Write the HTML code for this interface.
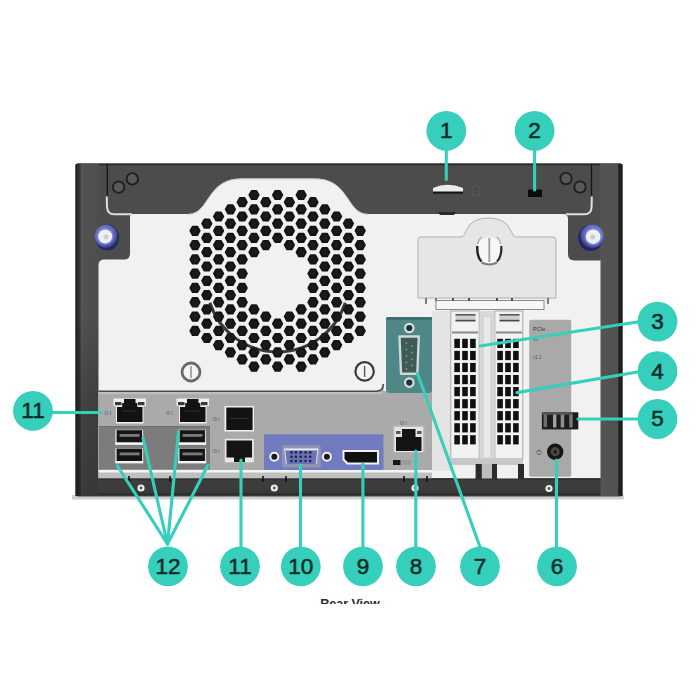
<!DOCTYPE html>
<html><head><meta charset="utf-8"><style>
html,body{margin:0;padding:0;background:#fff;overflow:hidden;width:700px;height:700px;}
svg{display:block;}
text{font-family:"Liberation Sans",sans-serif;}
</style></head><body>
<svg width="700" height="700" viewBox="0 0 700 700">
<defs>
<linearGradient id="lf" x1="0" x2="1" y1="0" y2="0">
<stop offset="0" stop-color="#161616"/><stop offset="0.07" stop-color="#2a2a2a"/>
<stop offset="0.2" stop-color="#393939"/><stop offset="0.25" stop-color="#565656"/>
<stop offset="0.4" stop-color="#525252"/><stop offset="1" stop-color="#4e4e4e"/>
</linearGradient>
<linearGradient id="lfv" x1="0" x2="0" y1="0" y2="1">
<stop offset="0" stop-color="#000" stop-opacity="0"/><stop offset="0.45" stop-color="#000" stop-opacity="0.02"/><stop offset="0.75" stop-color="#000" stop-opacity="0.22"/><stop offset="1" stop-color="#000" stop-opacity="0.3"/>
</linearGradient>
<linearGradient id="rf" x1="0" x2="1" y1="0" y2="0">
<stop offset="0" stop-color="#545454"/><stop offset="0.8" stop-color="#505050"/>
<stop offset="0.83" stop-color="#222"/><stop offset="1" stop-color="#1c1c1c"/>
</linearGradient>
<linearGradient id="tb" x1="0" x2="0" y1="0" y2="1">
<stop offset="0" stop-color="#3a3a3a"/><stop offset="0.05" stop-color="#525252"/><stop offset="1" stop-color="#4a4a4a"/>
</linearGradient>
<radialGradient id="scr" cx="0.42" cy="0.42" r="0.62">
<stop offset="0" stop-color="#9499e2"/><stop offset="0.55" stop-color="#6d73c4"/><stop offset="0.8" stop-color="#5157a8"/><stop offset="1" stop-color="#2a2d6c"/>
</radialGradient>
<radialGradient id="scr2" cx="0.58" cy="0.42" r="0.62">
<stop offset="0" stop-color="#9499e2"/><stop offset="0.55" stop-color="#6d73c4"/><stop offset="0.8" stop-color="#5157a8"/><stop offset="1" stop-color="#2a2d6c"/>
</radialGradient>
<linearGradient id="bot" x1="0" x2="0" y1="0" y2="1">
<stop offset="0" stop-color="#2c2c2c"/><stop offset="0.15" stop-color="#3e3e3e"/><stop offset="0.8" stop-color="#3a3a3a"/><stop offset="1" stop-color="#262626"/>
</linearGradient>
</defs>
<rect width="700" height="700" fill="#fff"/>
<rect x="72" y="495" width="552" height="4.5" fill="#cfcfcf"/>
<rect x="75.5" y="163.5" width="547" height="333" rx="2.5" fill="#4c4c4c"/>
<rect x="77" y="163.5" width="544" height="1.8" fill="#2c2c2c"/>
<rect x="75.5" y="164" width="23" height="332" fill="url(#lf)"/>
<rect x="77" y="164" width="21.5" height="332" fill="url(#lfv)"/>
<rect x="600" y="164" width="22.5" height="332" fill="url(#rf)"/>
<path d="M98.5 478 L98.5 265 Q98.5 259.5 104.5 259.5 L124 259.5 Q130 259.5 130 253.5 L130 217 Q130 214 133 214 L188 214
C200 214 204 204 210 196 C218 184.5 226 178.6 242 178.6 L314 178.6 C330 178.6 338 184.5 346 196 C352 204 356 214 368 214
L563 214 Q568 214 568 219 L568 254 Q568 260.5 574.5 260.5 L600.5 260.5 L600.5 478 Z" fill="#f1f1f1"/>
<path d="M188 214.3 C200 214 204 204 210 196 C218 184.5 226 178.9 242 178.9 L314 178.9 C330 178.9 338 184.5 346 196 C352 204 356 214 368 214.3" fill="none" stroke="#c4c4c4" stroke-width="1"/>

<path d="M190.4 230.8 L192.7 226.7 L197.3 226.7 L199.6 230.8 L197.3 234.9 L192.7 234.9ZM190.4 245.1 L192.7 241.0 L197.3 241.0 L199.6 245.1 L197.3 249.2 L192.7 249.2ZM190.4 259.4 L192.7 255.3 L197.3 255.3 L199.6 259.4 L197.3 263.5 L192.7 263.5ZM190.4 273.6 L192.7 269.5 L197.3 269.5 L199.6 273.6 L197.3 277.8 L192.7 277.8ZM190.4 287.9 L192.7 283.8 L197.3 283.8 L199.6 287.9 L197.3 292.1 L192.7 292.1ZM190.4 302.2 L192.7 298.1 L197.3 298.1 L199.6 302.2 L197.3 306.4 L192.7 306.4ZM190.4 316.6 L192.7 312.4 L197.3 312.4 L199.6 316.6 L197.3 320.7 L192.7 320.7ZM190.4 330.9 L192.7 326.8 L197.3 326.8 L199.6 330.9 L197.3 335.0 L192.7 335.0ZM202.2 223.6 L204.5 219.5 L209.1 219.5 L211.4 223.6 L209.1 227.7 L204.5 227.7ZM202.2 237.9 L204.5 233.8 L209.1 233.8 L211.4 237.9 L209.1 242.0 L204.5 242.0ZM202.2 252.2 L204.5 248.1 L209.1 248.1 L211.4 252.2 L209.1 256.3 L204.5 256.3ZM202.2 266.5 L204.5 262.4 L209.1 262.4 L211.4 266.5 L209.1 270.6 L204.5 270.6ZM202.2 280.8 L204.5 276.7 L209.1 276.7 L211.4 280.8 L209.1 284.9 L204.5 284.9ZM202.2 295.1 L204.5 291.0 L209.1 291.0 L211.4 295.1 L209.1 299.2 L204.5 299.2ZM202.2 309.4 L204.5 305.3 L209.1 305.3 L211.4 309.4 L209.1 313.5 L204.5 313.5ZM202.2 323.7 L204.5 319.6 L209.1 319.6 L211.4 323.7 L209.1 327.8 L204.5 327.8ZM202.2 338.0 L204.5 333.9 L209.1 333.9 L211.4 338.0 L209.1 342.1 L204.5 342.1ZM214.0 216.5 L216.3 212.4 L220.9 212.4 L223.2 216.5 L220.9 220.6 L216.3 220.6ZM214.0 230.8 L216.3 226.7 L220.9 226.7 L223.2 230.8 L220.9 234.9 L216.3 234.9ZM214.0 245.1 L216.3 241.0 L220.9 241.0 L223.2 245.1 L220.9 249.2 L216.3 249.2ZM214.0 259.4 L216.3 255.3 L220.9 255.3 L223.2 259.4 L220.9 263.5 L216.3 263.5ZM214.0 273.6 L216.3 269.5 L220.9 269.5 L223.2 273.6 L220.9 277.8 L216.3 277.8ZM214.0 287.9 L216.3 283.8 L220.9 283.8 L223.2 287.9 L220.9 292.1 L216.3 292.1ZM214.0 302.2 L216.3 298.1 L220.9 298.1 L223.2 302.2 L220.9 306.4 L216.3 306.4ZM214.0 316.6 L216.3 312.4 L220.9 312.4 L223.2 316.6 L220.9 320.7 L216.3 320.7ZM214.0 330.9 L216.3 326.8 L220.9 326.8 L223.2 330.9 L220.9 335.0 L216.3 335.0ZM214.0 345.1 L216.3 341.0 L220.9 341.0 L223.2 345.1 L220.9 349.2 L216.3 349.2ZM225.8 209.3 L228.1 205.2 L232.7 205.2 L235.0 209.3 L232.7 213.4 L228.1 213.4ZM225.8 223.6 L228.1 219.5 L232.7 219.5 L235.0 223.6 L232.7 227.7 L228.1 227.7ZM225.8 237.9 L228.1 233.8 L232.7 233.8 L235.0 237.9 L232.7 242.0 L228.1 242.0ZM225.8 252.2 L228.1 248.1 L232.7 248.1 L235.0 252.2 L232.7 256.3 L228.1 256.3ZM225.8 266.5 L228.1 262.4 L232.7 262.4 L235.0 266.5 L232.7 270.6 L228.1 270.6ZM225.8 280.8 L228.1 276.7 L232.7 276.7 L235.0 280.8 L232.7 284.9 L228.1 284.9ZM225.8 295.1 L228.1 291.0 L232.7 291.0 L235.0 295.1 L232.7 299.2 L228.1 299.2ZM225.8 309.4 L228.1 305.3 L232.7 305.3 L235.0 309.4 L232.7 313.5 L228.1 313.5ZM225.8 323.7 L228.1 319.6 L232.7 319.6 L235.0 323.7 L232.7 327.8 L228.1 327.8ZM225.8 338.0 L228.1 333.9 L232.7 333.9 L235.0 338.0 L232.7 342.1 L228.1 342.1ZM225.8 352.3 L228.1 348.2 L232.7 348.2 L235.0 352.3 L232.7 356.4 L228.1 356.4ZM237.6 202.2 L239.9 198.1 L244.5 198.1 L246.8 202.2 L244.5 206.2 L239.9 206.2ZM237.6 216.5 L239.9 212.4 L244.5 212.4 L246.8 216.5 L244.5 220.6 L239.9 220.6ZM237.6 230.8 L239.9 226.7 L244.5 226.7 L246.8 230.8 L244.5 234.9 L239.9 234.9ZM237.6 245.1 L239.9 241.0 L244.5 241.0 L246.8 245.1 L244.5 249.2 L239.9 249.2ZM237.6 259.4 L239.9 255.3 L244.5 255.3 L246.8 259.4 L244.5 263.5 L239.9 263.5ZM237.6 273.6 L239.9 269.5 L244.5 269.5 L246.8 273.6 L244.5 277.8 L239.9 277.8ZM237.6 287.9 L239.9 283.8 L244.5 283.8 L246.8 287.9 L244.5 292.1 L239.9 292.1ZM237.6 302.2 L239.9 298.1 L244.5 298.1 L246.8 302.2 L244.5 306.4 L239.9 306.4ZM237.6 316.6 L239.9 312.4 L244.5 312.4 L246.8 316.6 L244.5 320.7 L239.9 320.7ZM237.6 330.9 L239.9 326.8 L244.5 326.8 L246.8 330.9 L244.5 335.0 L239.9 335.0ZM237.6 345.1 L239.9 341.0 L244.5 341.0 L246.8 345.1 L244.5 349.2 L239.9 349.2ZM237.6 359.4 L239.9 355.3 L244.5 355.3 L246.8 359.4 L244.5 363.6 L239.9 363.6ZM249.4 195.0 L251.7 190.9 L256.3 190.9 L258.6 195.0 L256.3 199.1 L251.7 199.1ZM249.4 209.3 L251.7 205.2 L256.3 205.2 L258.6 209.3 L256.3 213.4 L251.7 213.4ZM249.4 223.6 L251.7 219.5 L256.3 219.5 L258.6 223.6 L256.3 227.7 L251.7 227.7ZM249.4 237.9 L251.7 233.8 L256.3 233.8 L258.6 237.9 L256.3 242.0 L251.7 242.0ZM249.4 252.2 L251.7 248.1 L256.3 248.1 L258.6 252.2 L256.3 256.3 L251.7 256.3ZM249.4 309.4 L251.7 305.3 L256.3 305.3 L258.6 309.4 L256.3 313.5 L251.7 313.5ZM249.4 323.7 L251.7 319.6 L256.3 319.6 L258.6 323.7 L256.3 327.8 L251.7 327.8ZM249.4 338.0 L251.7 333.9 L256.3 333.9 L258.6 338.0 L256.3 342.1 L251.7 342.1ZM249.4 352.3 L251.7 348.2 L256.3 348.2 L258.6 352.3 L256.3 356.4 L251.7 356.4ZM249.4 366.6 L251.7 362.5 L256.3 362.5 L258.6 366.6 L256.3 370.7 L251.7 370.7ZM261.2 202.2 L263.5 198.1 L268.1 198.1 L270.4 202.2 L268.1 206.2 L263.5 206.2ZM261.2 216.5 L263.5 212.4 L268.1 212.4 L270.4 216.5 L268.1 220.6 L263.5 220.6ZM261.2 230.8 L263.5 226.7 L268.1 226.7 L270.4 230.8 L268.1 234.9 L263.5 234.9ZM261.2 245.1 L263.5 241.0 L268.1 241.0 L270.4 245.1 L268.1 249.2 L263.5 249.2ZM261.2 316.6 L263.5 312.4 L268.1 312.4 L270.4 316.6 L268.1 320.7 L263.5 320.7ZM261.2 330.9 L263.5 326.8 L268.1 326.8 L270.4 330.9 L268.1 335.0 L263.5 335.0ZM261.2 345.1 L263.5 341.0 L268.1 341.0 L270.4 345.1 L268.1 349.2 L263.5 349.2ZM261.2 359.4 L263.5 355.3 L268.1 355.3 L270.4 359.4 L268.1 363.6 L263.5 363.6ZM273.0 195.0 L275.3 190.9 L279.9 190.9 L282.2 195.0 L279.9 199.1 L275.3 199.1ZM273.0 209.3 L275.3 205.2 L279.9 205.2 L282.2 209.3 L279.9 213.4 L275.3 213.4ZM273.0 223.6 L275.3 219.5 L279.9 219.5 L282.2 223.6 L279.9 227.7 L275.3 227.7ZM273.0 237.9 L275.3 233.8 L279.9 233.8 L282.2 237.9 L279.9 242.0 L275.3 242.0ZM273.0 323.7 L275.3 319.6 L279.9 319.6 L282.2 323.7 L279.9 327.8 L275.3 327.8ZM273.0 338.0 L275.3 333.9 L279.9 333.9 L282.2 338.0 L279.9 342.1 L275.3 342.1ZM273.0 352.3 L275.3 348.2 L279.9 348.2 L282.2 352.3 L279.9 356.4 L275.3 356.4ZM273.0 366.6 L275.3 362.5 L279.9 362.5 L282.2 366.6 L279.9 370.7 L275.3 370.7ZM284.8 202.2 L287.1 198.1 L291.7 198.1 L294.0 202.2 L291.7 206.2 L287.1 206.2ZM284.8 216.5 L287.1 212.4 L291.7 212.4 L294.0 216.5 L291.7 220.6 L287.1 220.6ZM284.8 230.8 L287.1 226.7 L291.7 226.7 L294.0 230.8 L291.7 234.9 L287.1 234.9ZM284.8 245.1 L287.1 241.0 L291.7 241.0 L294.0 245.1 L291.7 249.2 L287.1 249.2ZM284.8 316.6 L287.1 312.4 L291.7 312.4 L294.0 316.6 L291.7 320.7 L287.1 320.7ZM284.8 330.9 L287.1 326.8 L291.7 326.8 L294.0 330.9 L291.7 335.0 L287.1 335.0ZM284.8 345.1 L287.1 341.0 L291.7 341.0 L294.0 345.1 L291.7 349.2 L287.1 349.2ZM284.8 359.4 L287.1 355.3 L291.7 355.3 L294.0 359.4 L291.7 363.6 L287.1 363.6ZM296.6 195.0 L298.9 190.9 L303.5 190.9 L305.8 195.0 L303.5 199.1 L298.9 199.1ZM296.6 209.3 L298.9 205.2 L303.5 205.2 L305.8 209.3 L303.5 213.4 L298.9 213.4ZM296.6 223.6 L298.9 219.5 L303.5 219.5 L305.8 223.6 L303.5 227.7 L298.9 227.7ZM296.6 237.9 L298.9 233.8 L303.5 233.8 L305.8 237.9 L303.5 242.0 L298.9 242.0ZM296.6 252.2 L298.9 248.1 L303.5 248.1 L305.8 252.2 L303.5 256.3 L298.9 256.3ZM296.6 309.4 L298.9 305.3 L303.5 305.3 L305.8 309.4 L303.5 313.5 L298.9 313.5ZM296.6 323.7 L298.9 319.6 L303.5 319.6 L305.8 323.7 L303.5 327.8 L298.9 327.8ZM296.6 338.0 L298.9 333.9 L303.5 333.9 L305.8 338.0 L303.5 342.1 L298.9 342.1ZM296.6 352.3 L298.9 348.2 L303.5 348.2 L305.8 352.3 L303.5 356.4 L298.9 356.4ZM296.6 366.6 L298.9 362.5 L303.5 362.5 L305.8 366.6 L303.5 370.7 L298.9 370.7ZM308.4 202.2 L310.7 198.1 L315.3 198.1 L317.6 202.2 L315.3 206.2 L310.7 206.2ZM308.4 216.5 L310.7 212.4 L315.3 212.4 L317.6 216.5 L315.3 220.6 L310.7 220.6ZM308.4 230.8 L310.7 226.7 L315.3 226.7 L317.6 230.8 L315.3 234.9 L310.7 234.9ZM308.4 245.1 L310.7 241.0 L315.3 241.0 L317.6 245.1 L315.3 249.2 L310.7 249.2ZM308.4 259.4 L310.7 255.3 L315.3 255.3 L317.6 259.4 L315.3 263.5 L310.7 263.5ZM308.4 273.6 L310.7 269.5 L315.3 269.5 L317.6 273.6 L315.3 277.8 L310.7 277.8ZM308.4 287.9 L310.7 283.8 L315.3 283.8 L317.6 287.9 L315.3 292.1 L310.7 292.1ZM308.4 302.2 L310.7 298.1 L315.3 298.1 L317.6 302.2 L315.3 306.4 L310.7 306.4ZM308.4 316.6 L310.7 312.4 L315.3 312.4 L317.6 316.6 L315.3 320.7 L310.7 320.7ZM308.4 330.9 L310.7 326.8 L315.3 326.8 L317.6 330.9 L315.3 335.0 L310.7 335.0ZM308.4 345.1 L310.7 341.0 L315.3 341.0 L317.6 345.1 L315.3 349.2 L310.7 349.2ZM308.4 359.4 L310.7 355.3 L315.3 355.3 L317.6 359.4 L315.3 363.6 L310.7 363.6ZM320.2 209.3 L322.5 205.2 L327.1 205.2 L329.4 209.3 L327.1 213.4 L322.5 213.4ZM320.2 223.6 L322.5 219.5 L327.1 219.5 L329.4 223.6 L327.1 227.7 L322.5 227.7ZM320.2 237.9 L322.5 233.8 L327.1 233.8 L329.4 237.9 L327.1 242.0 L322.5 242.0ZM320.2 252.2 L322.5 248.1 L327.1 248.1 L329.4 252.2 L327.1 256.3 L322.5 256.3ZM320.2 266.5 L322.5 262.4 L327.1 262.4 L329.4 266.5 L327.1 270.6 L322.5 270.6ZM320.2 280.8 L322.5 276.7 L327.1 276.7 L329.4 280.8 L327.1 284.9 L322.5 284.9ZM320.2 295.1 L322.5 291.0 L327.1 291.0 L329.4 295.1 L327.1 299.2 L322.5 299.2ZM320.2 309.4 L322.5 305.3 L327.1 305.3 L329.4 309.4 L327.1 313.5 L322.5 313.5ZM320.2 323.7 L322.5 319.6 L327.1 319.6 L329.4 323.7 L327.1 327.8 L322.5 327.8ZM320.2 338.0 L322.5 333.9 L327.1 333.9 L329.4 338.0 L327.1 342.1 L322.5 342.1ZM320.2 352.3 L322.5 348.2 L327.1 348.2 L329.4 352.3 L327.1 356.4 L322.5 356.4ZM332.0 216.5 L334.3 212.4 L338.9 212.4 L341.2 216.5 L338.9 220.6 L334.3 220.6ZM332.0 230.8 L334.3 226.7 L338.9 226.7 L341.2 230.8 L338.9 234.9 L334.3 234.9ZM332.0 245.1 L334.3 241.0 L338.9 241.0 L341.2 245.1 L338.9 249.2 L334.3 249.2ZM332.0 259.4 L334.3 255.3 L338.9 255.3 L341.2 259.4 L338.9 263.5 L334.3 263.5ZM332.0 273.6 L334.3 269.5 L338.9 269.5 L341.2 273.6 L338.9 277.8 L334.3 277.8ZM332.0 287.9 L334.3 283.8 L338.9 283.8 L341.2 287.9 L338.9 292.1 L334.3 292.1ZM332.0 302.2 L334.3 298.1 L338.9 298.1 L341.2 302.2 L338.9 306.4 L334.3 306.4ZM332.0 316.6 L334.3 312.4 L338.9 312.4 L341.2 316.6 L338.9 320.7 L334.3 320.7ZM332.0 330.9 L334.3 326.8 L338.9 326.8 L341.2 330.9 L338.9 335.0 L334.3 335.0ZM332.0 345.1 L334.3 341.0 L338.9 341.0 L341.2 345.1 L338.9 349.2 L334.3 349.2ZM343.8 223.6 L346.1 219.5 L350.7 219.5 L353.0 223.6 L350.7 227.7 L346.1 227.7ZM343.8 237.9 L346.1 233.8 L350.7 233.8 L353.0 237.9 L350.7 242.0 L346.1 242.0ZM343.8 252.2 L346.1 248.1 L350.7 248.1 L353.0 252.2 L350.7 256.3 L346.1 256.3ZM343.8 266.5 L346.1 262.4 L350.7 262.4 L353.0 266.5 L350.7 270.6 L346.1 270.6ZM343.8 280.8 L346.1 276.7 L350.7 276.7 L353.0 280.8 L350.7 284.9 L346.1 284.9ZM343.8 295.1 L346.1 291.0 L350.7 291.0 L353.0 295.1 L350.7 299.2 L346.1 299.2ZM343.8 309.4 L346.1 305.3 L350.7 305.3 L353.0 309.4 L350.7 313.5 L346.1 313.5ZM343.8 323.7 L346.1 319.6 L350.7 319.6 L353.0 323.7 L350.7 327.8 L346.1 327.8ZM343.8 338.0 L346.1 333.9 L350.7 333.9 L353.0 338.0 L350.7 342.1 L346.1 342.1ZM355.6 230.8 L357.9 226.7 L362.5 226.7 L364.8 230.8 L362.5 234.9 L357.9 234.9ZM355.6 245.1 L357.9 241.0 L362.5 241.0 L364.8 245.1 L362.5 249.2 L357.9 249.2ZM355.6 259.4 L357.9 255.3 L362.5 255.3 L364.8 259.4 L362.5 263.5 L357.9 263.5ZM355.6 273.6 L357.9 269.5 L362.5 269.5 L364.8 273.6 L362.5 277.8 L357.9 277.8ZM355.6 287.9 L357.9 283.8 L362.5 283.8 L364.8 287.9 L362.5 292.1 L357.9 292.1ZM355.6 302.2 L357.9 298.1 L362.5 298.1 L364.8 302.2 L362.5 306.4 L357.9 306.4ZM355.6 316.6 L357.9 312.4 L362.5 312.4 L364.8 316.6 L362.5 320.7 L357.9 320.7ZM355.6 330.9 L357.9 326.8 L362.5 326.8 L364.8 330.9 L362.5 335.0 L357.9 335.0Z" fill="#1a1a1a" stroke="#141414" stroke-width="2.0" stroke-linejoin="round"/>
<path d="M209.9 302.8 A71.2 71.2 0 0 0 345.3 302.8" fill="none" stroke="#1c1c1c" stroke-width="3" opacity="0.85"/>

<circle cx="191" cy="372" r="9" fill="#f4f4f4" stroke="#6a6a6a" stroke-width="2.8"/>
<path d="M191 366 L191 378" stroke="#aaa" stroke-width="2"/>
<circle cx="364.6" cy="371.4" r="9.2" fill="#f4f4f4" stroke="#3a3a3a" stroke-width="2.2"/>
<path d="M364.6 366 L364.6 377" stroke="#555" stroke-width="1.4"/>
<path d="M107.2 164 L107.2 196" stroke="#151515" stroke-width="1.3"/>
<path d="M106.8 196.5 L107 207 Q107.5 214.3 114 214.3 L132 214.3" stroke="#dedede" stroke-width="2" fill="none"/>
<path d="M591.5 164 L591.5 196" stroke="#151515" stroke-width="1.3"/>
<path d="M591.8 196.5 L591.6 207 Q591.2 214.3 584.5 214.3 L566 214.3" stroke="#dedede" stroke-width="2" fill="none"/>
<circle cx="118.6" cy="187.2" r="5.7" fill="#585858" stroke="#1e1e1e" stroke-width="1.8"/>
<circle cx="132.3" cy="178.9" r="5.7" fill="#585858" stroke="#1e1e1e" stroke-width="1.8"/>
<circle cx="566" cy="178.5" r="5.7" fill="#585858" stroke="#1e1e1e" stroke-width="1.8"/>
<circle cx="580" cy="187" r="5.7" fill="#585858" stroke="#1e1e1e" stroke-width="1.8"/>
<ellipse cx="107.2" cy="237.6" rx="11.9" ry="13" fill="#22265e"/>
<circle cx="106.3" cy="236.3" r="11.5" fill="url(#scr)"/>
<circle cx="105.2" cy="236.4" r="8.3" fill="#7e85d2"/>
<circle cx="105.2" cy="236.4" r="7" fill="#eef0f4"/>
<circle cx="106" cy="237" r="2.5" fill="#c8d2c8"/>
<ellipse cx="590.6" cy="237.8" rx="12.4" ry="13.2" fill="#22265e"/>
<circle cx="592" cy="236.3" r="11.8" fill="url(#scr2)"/>
<circle cx="593.2" cy="236.7" r="8.6" fill="#7e85d2"/>
<circle cx="593.2" cy="236.7" r="7.3" fill="#eef0f4"/>
<circle cx="592.6" cy="237" r="2.5" fill="#c8d2c8"/>
<path d="M433 188 Q447 181.5 463 188 L463 192 L433 192 Z" fill="#ececec"/>
<rect x="433" y="191.5" width="30" height="2.2" fill="#161616"/>
<path d="M438 212 L456 212 L454 215 L440 215 Z" fill="#2a2a2a"/>
<rect x="528" y="189.5" width="14" height="7.5" fill="#0c0c0c"/>
<path d="M472 195 L472 188 Q476 183 480 188 L480 195 Z" fill="none" stroke="#5c5c5c" stroke-width="1"/>
<path d="M418 240 Q418 237 421 237 L461 237 Q464 237 466 231 Q471 218 488.5 218 Q506 218 511 231 Q513 237 516 237 L553 237 Q556 237 556 240 L556 298 L418 298 Z" fill="#e6e6e6" stroke="#b0b0b0" stroke-width="1"/>
<ellipse cx="489.3" cy="251" rx="13.5" ry="14" fill="#d8d8d8"/>
<ellipse cx="489.3" cy="250.5" rx="12.8" ry="13.4" fill="#f6f6f6"/>
<path d="M477.3 246 Q476.8 257 481.5 261.5" fill="none" stroke="#222" stroke-width="2.4"/>
<path d="M501.3 246 Q501.8 257 497 261.5" fill="none" stroke="#2a2a2a" stroke-width="2.2"/>
<path d="M481.5 262.5 Q489.3 266.5 497 262.5" fill="none" stroke="#7a7a7a" stroke-width="2"/>
<path d="M478 244 Q478.5 239 482 237" fill="none" stroke="#aaa" stroke-width="1.2"/>
<path d="M500.5 244 Q500 239 496.5 237" fill="none" stroke="#aaa" stroke-width="1.2"/>
<path d="M489.3 238 L489.3 262" stroke="#9a9a9a" stroke-width="1.8"/>
<path d="M426 298 L426 304 M436 298 L436 302 M548 298 L548 304" stroke="#555" stroke-width="1.5"/>
<rect x="436" y="300.5" width="108" height="9" fill="#f7f7f7" stroke="#8a8a8a" stroke-width="1"/>
<rect x="98.5" y="391" width="333.5" height="80.5" fill="#aaaaaa"/>
<path d="M376 391.5 Q383.5 391.5 383.5 384 L383.5 392 L376 392 Z" fill="#aaaaaa"/>
<rect x="98.5" y="392" width="284" height="2.2" fill="#bebebe"/>
<path d="M98.5 391.3 L376 391.3 Q383.3 391.3 383.3 384" fill="none" stroke="#4a4a4a" stroke-width="1.6"/>
<rect x="99" y="426" width="111" height="43.5" fill="#7c7c7c"/>
<rect x="99" y="426" width="111" height="1" fill="#6c6c6c"/>
<rect x="386" y="317" width="46.5" height="76" rx="4" fill="#4f8686"/>
<rect x="386" y="317" width="46.5" height="3" rx="1.5" fill="#3e6e6e"/>
<path d="M399.5 336.5 L418.8 336.5 L417.3 373.8 L401 373.8 Z" fill="#3e5a55" stroke="#d0d8d8" stroke-width="2.4" stroke-linejoin="round"/>
<g fill="#7f9d95"><circle cx="406.4" cy="343" r="0.9"/><circle cx="406.4" cy="349.5" r="0.9"/><circle cx="406.4" cy="356" r="0.9"/><circle cx="406.4" cy="362.5" r="0.9"/><circle cx="406.4" cy="369" r="0.9"/>
<circle cx="412.1" cy="346" r="0.9"/><circle cx="412.1" cy="352.5" r="0.9"/><circle cx="412.1" cy="359" r="0.9"/><circle cx="412.1" cy="365.5" r="0.9"/></g>
<circle cx="409.3" cy="328" r="4.2" fill="#1e3030" stroke="#d6e0e0" stroke-width="2.2"/>
<circle cx="409.3" cy="382.6" r="4.2" fill="#1e3030" stroke="#d6e0e0" stroke-width="2.2"/>
<rect x="264" y="434.3" width="119.5" height="36" fill="#727bbf"/>
<rect x="282" y="445.3" width="38.8" height="22.3" rx="2" fill="#9094b4"/>
<path d="M284.6 448.4 L318 448.4 L316.2 464 L286.4 464 Z" fill="#6a72b2"/>
<rect x="284.6" y="448.4" width="33.4" height="2" fill="#e8eaf4"/>
<path d="M284.6 448.4 L286.4 464 M318 448.4 L316.2 464" stroke="#d0d3e6" stroke-width="1.2"/>
<circle cx="291.5" cy="452.4" r="1.3" fill="#1e2254"/><circle cx="295.9" cy="452.4" r="1.3" fill="#1e2254"/><circle cx="300.7" cy="452.4" r="1.3" fill="#1e2254"/><circle cx="305.6" cy="452.4" r="1.3" fill="#1e2254"/><circle cx="310.2" cy="452.4" r="1.3" fill="#1e2254"/><circle cx="291.5" cy="456.8" r="1.3" fill="#1e2254"/><circle cx="295.9" cy="456.8" r="1.3" fill="#1e2254"/><circle cx="300.7" cy="456.8" r="1.3" fill="#1e2254"/><circle cx="305.6" cy="456.8" r="1.3" fill="#1e2254"/><circle cx="310.2" cy="456.8" r="1.3" fill="#1e2254"/><circle cx="291.5" cy="461" r="1.3" fill="#1e2254"/><circle cx="295.9" cy="461" r="1.3" fill="#1e2254"/><circle cx="300.7" cy="461" r="1.3" fill="#1e2254"/><circle cx="305.6" cy="461" r="1.3" fill="#1e2254"/><circle cx="310.2" cy="461" r="1.3" fill="#1e2254"/>
<circle cx="274.3" cy="456.8" r="4" fill="#1a1a1a" stroke="#f0f0f0" stroke-width="2"/>
<circle cx="326.9" cy="456.8" r="4" fill="#1a1a1a" stroke="#f0f0f0" stroke-width="2"/>
<path d="M342.5 450 L379 450 L379 464.5 L347 464.5 L342.5 460 Z" fill="#f2f2f2"/>
<path d="M344.5 452 L377 452 L377 462.5 L348 462.5 L344.5 459 Z" fill="#111"/>

<path d="M113.5 398.5 L146.0 398.5 L146.0 406 L143.5 406 L143.5 423.5 L116 423.5 L116 406 L113.5 406 Z" fill="#efefef"/><path d="M117 407 L122.2 407 L122.2 403 L124.0 403 L124.0 399 L135.5 399 L135.5 403 L137.3 403 L137.3 407 L142.5 407 L142.5 422 L117 422 Z" fill="#121212"/><rect x="115" y="402" width="6.5" height="3.2" fill="#3a3a3a"/><rect x="138.0" y="402" width="6.5" height="3.2" fill="#3a3a3a"/><rect x="122" y="410.5" width="15.5" height="1" fill="#2e2e2e"/>
<path d="M176.5 398.5 L209.0 398.5 L209.0 406 L206.5 406 L206.5 423.5 L179 423.5 L179 406 L176.5 406 Z" fill="#efefef"/><path d="M180 407 L185.2 407 L185.2 403 L187.0 403 L187.0 399 L198.5 399 L198.5 403 L200.3 403 L200.3 407 L205.5 407 L205.5 422 L180 422 Z" fill="#121212"/><rect x="178" y="402" width="6.5" height="3.2" fill="#3a3a3a"/><rect x="201.0" y="402" width="6.5" height="3.2" fill="#3a3a3a"/><rect x="185" y="410.5" width="15.5" height="1" fill="#2e2e2e"/>
<rect x="224.5" y="406" width="29.5" height="25.5" fill="#efefef"/>
<rect x="226.3" y="407.5" width="26.3" height="22.5" fill="#131313"/>
<rect x="230" y="418" width="19" height="1" fill="#333"/>
<rect x="224.8" y="438.8" width="29" height="23.5" fill="#e8e8e8"/>
<path d="M226.5 440.5 L252 440.5 L252 457.5 L245 457.5 L245 462 L234 462 L234 457.5 L226.5 457.5 Z" fill="#141414"/>
<rect x="393" y="425.5" width="31.5" height="27" rx="1.5" fill="#bdbdbd"/>

<path d="M394.5 427 L423 427 L423 452 L394.5 452 Z" fill="#e6e6e6"/>
<path d="M396 437 L402 437 L402 429 L415.5 429 L415.5 437 L421.5 437 L421.5 451 L396 451 Z" fill="#141414"/>
<rect x="396" y="431" width="4.5" height="3" fill="#555"/><rect x="417" y="431" width="4.5" height="3" fill="#555"/>
<rect x="393" y="460" width="7.5" height="5" fill="#161616"/>
<rect x="402" y="460" width="9" height="5" fill="#9a9a9a"/>

<rect x="115.2" y="429.7" width="28" height="15" fill="#cfcfcf"/>
<rect x="116.7" y="430.2" width="25.3" height="12.3" fill="#141414"/>
<rect x="119.6" y="434.0" width="20" height="2.8" fill="#7a7a7a"/>
<rect x="115.2" y="442.5" width="28" height="2.3" fill="#f4f4f4"/>
<rect x="115.2" y="448.2" width="28" height="15" fill="#cfcfcf"/>
<rect x="116.7" y="448.7" width="25.3" height="12.3" fill="#141414"/>
<rect x="119.6" y="452.5" width="20" height="2.8" fill="#7a7a7a"/>
<rect x="115.2" y="461.0" width="28" height="2.3" fill="#f4f4f4"/>
<rect x="178.1" y="429.7" width="28" height="15" fill="#cfcfcf"/>
<rect x="179.6" y="430.2" width="25.3" height="12.3" fill="#141414"/>
<rect x="182.5" y="434.0" width="20" height="2.8" fill="#7a7a7a"/>
<rect x="178.1" y="442.5" width="28" height="2.3" fill="#f4f4f4"/>
<rect x="178.1" y="448.2" width="28" height="15" fill="#cfcfcf"/>
<rect x="179.6" y="448.7" width="25.3" height="12.3" fill="#141414"/>
<rect x="182.5" y="452.5" width="20" height="2.8" fill="#7a7a7a"/>
<rect x="178.1" y="461.0" width="28" height="2.3" fill="#f4f4f4"/>
<circle cx="106.5" cy="413" r="1.7" fill="none" stroke="#7e7e7e" stroke-width="0.9"/><path d="M110.5 411 L110.5 415" stroke="#7e7e7e" stroke-width="1"/><path d="M105.8 412 L107.2 414" stroke="#7e7e7e" stroke-width="0.6"/>
<circle cx="168" cy="413" r="1.7" fill="none" stroke="#7e7e7e" stroke-width="0.9"/><path d="M172 411 L172 415" stroke="#7e7e7e" stroke-width="1"/><path d="M167.3 412 L168.7 414" stroke="#7e7e7e" stroke-width="0.6"/>
<circle cx="215" cy="419" r="1.7" fill="none" stroke="#7e7e7e" stroke-width="0.9"/><path d="M219 417 L219 421" stroke="#7e7e7e" stroke-width="1"/><path d="M214.3 418 L215.7 420" stroke="#7e7e7e" stroke-width="0.6"/>
<circle cx="215" cy="451" r="1.7" fill="none" stroke="#7e7e7e" stroke-width="0.9"/><path d="M219 449 L219 453" stroke="#7e7e7e" stroke-width="1"/><path d="M214.3 450 L215.7 452" stroke="#7e7e7e" stroke-width="0.6"/>
<circle cx="402" cy="423" r="1.7" fill="none" stroke="#7e7e7e" stroke-width="0.9"/><path d="M406 421 L406 425" stroke="#7e7e7e" stroke-width="1"/><path d="M401.3 422 L402.7 424" stroke="#7e7e7e" stroke-width="0.6"/>
<rect x="432" y="311" width="19" height="160" fill="#e4e4e4"/>
<rect x="450.8" y="311" width="28.4" height="148" fill="#f2f2f2" stroke="#a8a8a8" stroke-width="1"/>
<rect x="494.8" y="311" width="28" height="148" fill="#f2f2f2" stroke="#a8a8a8" stroke-width="1"/>
<rect x="479.8" y="311" width="14.5" height="150" fill="#d9d9d9"/>
<rect x="483" y="316" width="8" height="142" fill="#e9e9e9" stroke="#c4c4c4" stroke-width="0.8"/>
<rect x="455.5" y="314" width="20" height="7.5" fill="#cfcfcf"/>
<rect x="455.5" y="314" width="20" height="1.6" fill="#5a5a5a"/>
<rect x="455.5" y="319.8" width="20" height="1.6" fill="#4a4a4a"/>
<rect x="499.5" y="314" width="20" height="7.5" fill="#cfcfcf"/>
<rect x="499.5" y="314" width="20" height="1.6" fill="#5a5a5a"/>
<rect x="499.5" y="319.8" width="20" height="1.6" fill="#4a4a4a"/>
<path d="M452.9 298 L452.9 301 M469 298 L469 301 M497 298 L497 301 M512 298 L512 301" stroke="#444" stroke-width="1.8"/>
<rect x="452" y="331.5" width="26" height="2" fill="#8a8a8a"/>
<rect x="496" y="331.5" width="26" height="2" fill="#8a8a8a"/>
<rect x="451" y="458.5" width="72" height="6.5" fill="#c8c8c8"/>
<rect x="453.6" y="465" width="22" height="14" fill="#f0f0f0"/>
<rect x="497.6" y="465" width="20.4" height="14" fill="#f0f0f0"/>
<rect x="475.6" y="464" width="6.3" height="15" fill="#2a2a2a"/>
<rect x="492" y="464" width="5" height="15" fill="#2a2a2a"/>
<rect x="518" y="464" width="6" height="15" fill="#2a2a2a"/>
<rect x="481.9" y="464" width="10.1" height="15" fill="#bdbdbd"/>

<rect x="454.3" y="338.8" width="5.6" height="9.2" fill="#101010"/>
<rect x="454.3" y="350.9" width="5.6" height="9.2" fill="#101010"/>
<rect x="454.3" y="362.9" width="5.6" height="9.2" fill="#101010"/>
<rect x="454.3" y="375.0" width="5.6" height="9.2" fill="#101010"/>
<rect x="454.3" y="387.0" width="5.6" height="9.2" fill="#101010"/>
<rect x="454.3" y="399.1" width="5.6" height="9.2" fill="#101010"/>
<rect x="454.3" y="411.1" width="5.6" height="9.2" fill="#101010"/>
<rect x="454.3" y="423.2" width="5.6" height="9.2" fill="#101010"/>
<rect x="454.3" y="435.2" width="5.6" height="9.2" fill="#101010"/>
<rect x="462.2" y="338.8" width="5.6" height="9.2" fill="#101010"/>
<rect x="462.2" y="350.9" width="5.6" height="9.2" fill="#101010"/>
<rect x="462.2" y="362.9" width="5.6" height="9.2" fill="#101010"/>
<rect x="462.2" y="375.0" width="5.6" height="9.2" fill="#101010"/>
<rect x="462.2" y="387.0" width="5.6" height="9.2" fill="#101010"/>
<rect x="462.2" y="399.1" width="5.6" height="9.2" fill="#101010"/>
<rect x="462.2" y="411.1" width="5.6" height="9.2" fill="#101010"/>
<rect x="462.2" y="423.2" width="5.6" height="9.2" fill="#101010"/>
<rect x="462.2" y="435.2" width="5.6" height="9.2" fill="#101010"/>
<rect x="470.1" y="338.8" width="5.6" height="9.2" fill="#101010"/>
<rect x="470.1" y="350.9" width="5.6" height="9.2" fill="#101010"/>
<rect x="470.1" y="362.9" width="5.6" height="9.2" fill="#101010"/>
<rect x="470.1" y="375.0" width="5.6" height="9.2" fill="#101010"/>
<rect x="470.1" y="387.0" width="5.6" height="9.2" fill="#101010"/>
<rect x="470.1" y="399.1" width="5.6" height="9.2" fill="#101010"/>
<rect x="470.1" y="411.1" width="5.6" height="9.2" fill="#101010"/>
<rect x="470.1" y="423.2" width="5.6" height="9.2" fill="#101010"/>
<rect x="470.1" y="435.2" width="5.6" height="9.2" fill="#101010"/>
<rect x="497.3" y="338.8" width="5.6" height="9.2" fill="#101010"/>
<rect x="497.3" y="350.9" width="5.6" height="9.2" fill="#101010"/>
<rect x="497.3" y="362.9" width="5.6" height="9.2" fill="#101010"/>
<rect x="497.3" y="375.0" width="5.6" height="9.2" fill="#101010"/>
<rect x="497.3" y="387.0" width="5.6" height="9.2" fill="#101010"/>
<rect x="497.3" y="399.1" width="5.6" height="9.2" fill="#101010"/>
<rect x="497.3" y="411.1" width="5.6" height="9.2" fill="#101010"/>
<rect x="497.3" y="423.2" width="5.6" height="9.2" fill="#101010"/>
<rect x="497.3" y="435.2" width="5.6" height="9.2" fill="#101010"/>
<rect x="505.2" y="338.8" width="5.6" height="9.2" fill="#101010"/>
<rect x="505.2" y="350.9" width="5.6" height="9.2" fill="#101010"/>
<rect x="505.2" y="362.9" width="5.6" height="9.2" fill="#101010"/>
<rect x="505.2" y="375.0" width="5.6" height="9.2" fill="#101010"/>
<rect x="505.2" y="387.0" width="5.6" height="9.2" fill="#101010"/>
<rect x="505.2" y="399.1" width="5.6" height="9.2" fill="#101010"/>
<rect x="505.2" y="411.1" width="5.6" height="9.2" fill="#101010"/>
<rect x="505.2" y="423.2" width="5.6" height="9.2" fill="#101010"/>
<rect x="505.2" y="435.2" width="5.6" height="9.2" fill="#101010"/>
<rect x="513.1" y="338.8" width="5.6" height="9.2" fill="#101010"/>
<rect x="513.1" y="350.9" width="5.6" height="9.2" fill="#101010"/>
<rect x="513.1" y="362.9" width="5.6" height="9.2" fill="#101010"/>
<rect x="513.1" y="375.0" width="5.6" height="9.2" fill="#101010"/>
<rect x="513.1" y="387.0" width="5.6" height="9.2" fill="#101010"/>
<rect x="513.1" y="399.1" width="5.6" height="9.2" fill="#101010"/>
<rect x="513.1" y="411.1" width="5.6" height="9.2" fill="#101010"/>
<rect x="513.1" y="423.2" width="5.6" height="9.2" fill="#101010"/>
<rect x="513.1" y="435.2" width="5.6" height="9.2" fill="#101010"/>
<rect x="529.2" y="319.7" width="42" height="157" rx="2" fill="#a9a9a9"/>
<text x="533" y="331" font-size="5.5" fill="#333">PCIe</text>
<text x="533" y="341" font-size="4.5" fill="#555">x8</text>
<text x="533" y="359" font-size="4.5" fill="#555">x1 2</text>
<rect x="541.9" y="412.3" width="36.4" height="17.1" fill="#1c1c1c"/>
<rect x="543.6" y="414" width="3.4" height="13" fill="#6e6e6e"/>
<rect x="553" y="413.5" width="3.4" height="14" fill="#a8a0a0"/>
<rect x="560.7" y="413.5" width="3.5" height="14" fill="#8e8e8e"/>
<rect x="569.3" y="413.5" width="3.4" height="14" fill="#7a7a7a"/>
<rect x="541.9" y="412.3" width="30" height="2.5" fill="#555"/>
<circle cx="555.2" cy="451.7" r="8.2" fill="#161616"/>
<circle cx="555.2" cy="451.7" r="4.6" fill="#4a4444"/>
<circle cx="555.2" cy="451.7" r="1.5" fill="#111"/>
<circle cx="539" cy="452.5" r="2.2" fill="none" stroke="#666" stroke-width="0.9"/><path d="M539 449.5 L539 452" stroke="#666" stroke-width="0.9"/>
<rect x="98.5" y="470" width="333.5" height="2.5" fill="#f4f4f4"/>
<rect x="98.5" y="472.5" width="333.5" height="6" fill="#c0c0c0"/>
<rect x="98.5" y="478.5" width="502" height="17" fill="url(#bot)"/>
<path d="M129 476 L129 482 M170 476 L170 482 M263 476 L263 482 M286 476 L286 482 M404 476 L404 482 M427 476 L427 482" stroke="#111" stroke-width="1.6"/>
<circle cx="141" cy="488" r="3.6" fill="#eee"/><circle cx="141" cy="488" r="1.4" fill="#555"/>
<circle cx="274.3" cy="488" r="3.6" fill="#eee"/><circle cx="274.3" cy="488" r="1.4" fill="#555"/>
<circle cx="415" cy="488" r="3.6" fill="#eee"/><circle cx="415" cy="488" r="1.4" fill="#555"/>
<circle cx="549" cy="488.5" r="3.6" fill="#eee"/><circle cx="549" cy="488.5" r="1.4" fill="#555"/>

<g stroke="#36cfbc" stroke-width="3.1" stroke-linecap="round">
<line x1="446.3" y1="150" x2="446.3" y2="179.5"/>
<line x1="534.6" y1="150" x2="534.6" y2="190"/>
<line x1="637.5" y1="322" x2="480" y2="346"/>
<line x1="637.5" y1="372" x2="517" y2="392.6"/>
<line x1="637.5" y1="419" x2="578" y2="419"/>
<line x1="556.5" y1="546" x2="556.5" y2="460"/>
<line x1="480" y1="547" x2="417.5" y2="373.5"/>
<line x1="415.8" y1="546" x2="415.8" y2="451"/>
<line x1="362.9" y1="546" x2="362.9" y2="464"/>
<line x1="300.5" y1="546" x2="300.5" y2="465"/>
<line x1="241" y1="546" x2="241" y2="460"/>
<line x1="53" y1="412.5" x2="101" y2="412.5"/>
<line x1="167.5" y1="544" x2="117.5" y2="466"/>
<line x1="167.5" y1="544" x2="143" y2="438"/>
<line x1="167.5" y1="544" x2="178.5" y2="432"/>
<line x1="167.5" y1="544" x2="208" y2="465"/>
</g>
<circle cx="446.3" cy="130.8" r="19.9" fill="#36cfbc"/>
<text x="446.3" y="138.20000000000002" text-anchor="middle" font-size="22.5" fill="#0f2c29" stroke="#0f2c29" stroke-width="0.55">1</text>
<circle cx="534.6" cy="130.8" r="19.9" fill="#36cfbc"/>
<text x="534.6" y="138.20000000000002" text-anchor="middle" font-size="22.5" fill="#0f2c29" stroke="#0f2c29" stroke-width="0.55">2</text>
<circle cx="657.5" cy="321.6" r="19.9" fill="#36cfbc"/>
<text x="657.5" y="329.0" text-anchor="middle" font-size="22.5" fill="#0f2c29" stroke="#0f2c29" stroke-width="0.55">3</text>
<circle cx="657.5" cy="371.2" r="19.9" fill="#36cfbc"/>
<text x="657.5" y="378.59999999999997" text-anchor="middle" font-size="22.5" fill="#0f2c29" stroke="#0f2c29" stroke-width="0.55">4</text>
<circle cx="657.5" cy="419.0" r="19.9" fill="#36cfbc"/>
<text x="657.5" y="426.4" text-anchor="middle" font-size="22.5" fill="#0f2c29" stroke="#0f2c29" stroke-width="0.55">5</text>
<circle cx="557.0" cy="566.4" r="19.9" fill="#36cfbc"/>
<text x="557.0" y="573.8" text-anchor="middle" font-size="22.5" fill="#0f2c29" stroke="#0f2c29" stroke-width="0.55">6</text>
<circle cx="480.0" cy="566.4" r="19.9" fill="#36cfbc"/>
<text x="480.0" y="573.8" text-anchor="middle" font-size="22.5" fill="#0f2c29" stroke="#0f2c29" stroke-width="0.55">7</text>
<circle cx="416.0" cy="566.4" r="19.9" fill="#36cfbc"/>
<text x="416.0" y="573.8" text-anchor="middle" font-size="22.5" fill="#0f2c29" stroke="#0f2c29" stroke-width="0.55">8</text>
<circle cx="363.0" cy="566.4" r="19.9" fill="#36cfbc"/>
<text x="363.0" y="573.8" text-anchor="middle" font-size="22.5" fill="#0f2c29" stroke="#0f2c29" stroke-width="0.55">9</text>
<circle cx="300.8" cy="566.4" r="19.9" fill="#36cfbc"/>
<text x="300.8" y="573.8" text-anchor="middle" font-size="22.5" fill="#0f2c29" stroke="#0f2c29" stroke-width="0.55">10</text>
<circle cx="240.0" cy="566.4" r="19.9" fill="#36cfbc"/>
<text x="240.0" y="573.8" text-anchor="middle" font-size="22.5" fill="#0f2c29" stroke="#0f2c29" stroke-width="0.55">11</text>
<circle cx="168.0" cy="566.4" r="19.9" fill="#36cfbc"/>
<text x="168.0" y="573.8" text-anchor="middle" font-size="22.5" fill="#0f2c29" stroke="#0f2c29" stroke-width="0.55">12</text>
<circle cx="33.0" cy="410.8" r="19.9" fill="#36cfbc"/>
<text x="33.0" y="418.2" text-anchor="middle" font-size="22.5" fill="#0f2c29" stroke="#0f2c29" stroke-width="0.55">11</text>
<clipPath id="rv"><rect x="300" y="590" width="100" height="14"/></clipPath><text clip-path="url(#rv)" x="350" y="608" text-anchor="middle" font-size="12.5" font-weight="bold" fill="#2a2a2a">Rear View</text>
</svg>
</body></html>
